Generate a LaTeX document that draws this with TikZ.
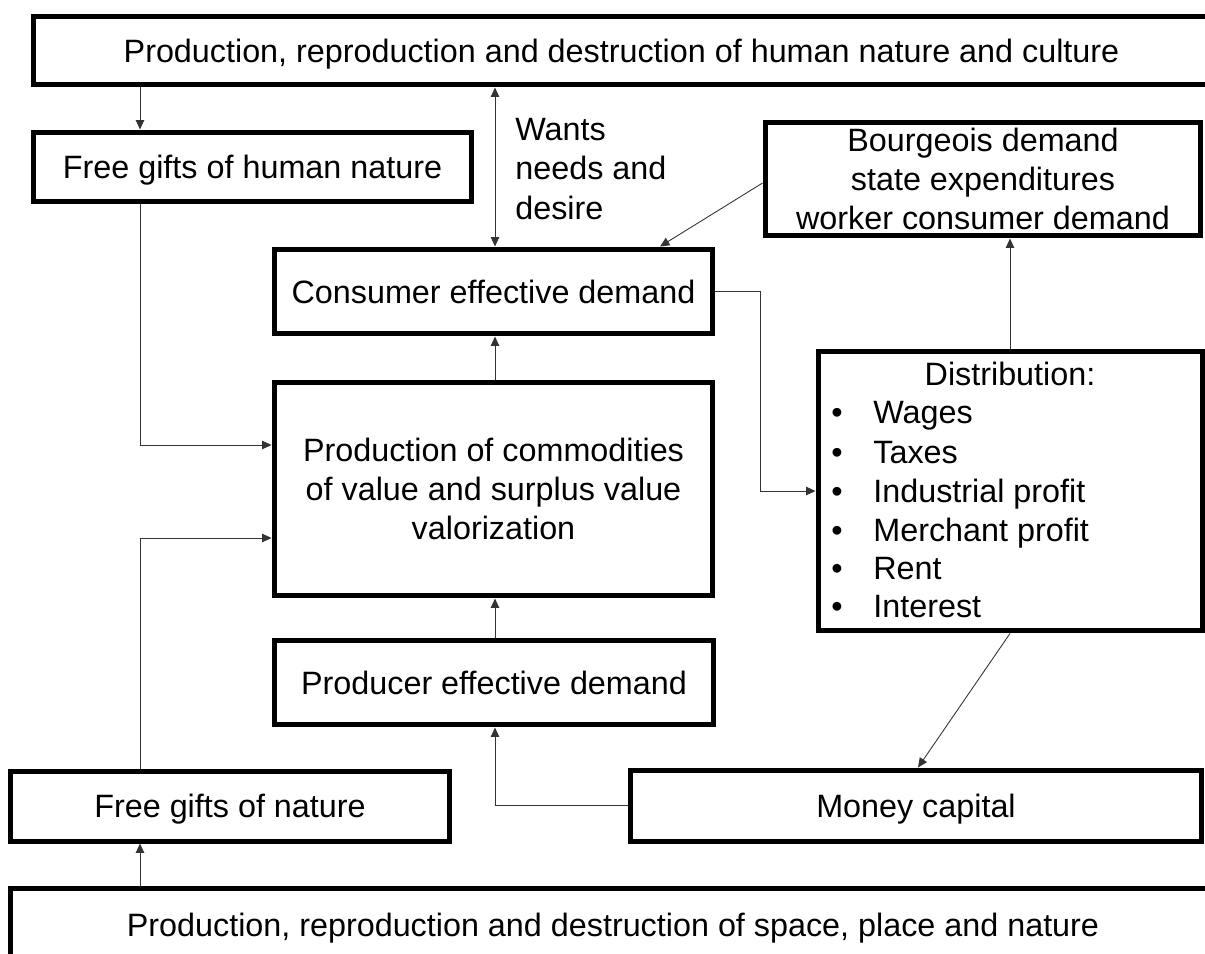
\documentclass[tikz,border=0pt]{standalone}
\usepackage{fontspec}
\setmainfont{Liberation Sans}
\usetikzlibrary{arrows.meta,calc}
\newcommand{\diagfont}{\fontsize{18.4}{22.4}\selectfont}
\begin{document}
\begin{tikzpicture}[x=0.02cm,y=-0.02cm,
  box/.style={draw, line width=0.1cm, inner sep=0pt, align=center, font=\diagfont},
  one/.style={text height=13.2pt, text depth=0pt},
  txt/.style={inner sep=0pt, font=\diagfont},
  tip/.tip={Triangle[length=0.19cm,width=0.17cm]},
  arr/.style={draw=black!80, line width=0.5pt, -tip},
  darr/.style={draw=black!80, line width=0.5pt, tip-tip}]

\useasboundingbox (0,0) rectangle (1205,954);
\clip (0,0) rectangle (1205,954);

% boxes
\node[box, one, minimum width=23.54cm, minimum height=1.38cm] (top) at (621.5,50.5)
  {Production, reproduction and destruction of human nature and culture};
\node[box, one, minimum width=8.78cm, minimum height=1.4cm] (human) at (252.5,167)
  {Free gifts of human nature};
\node[box, minimum width=8.72cm, minimum height=2.28cm] (bourg) at (983,179)
  {Bourgeois demand\\state expenditures\\worker consumer demand};
\node[box, one, minimum width=8.78cm, minimum height=1.7cm] (cons) at (493.5,291.5)
  {Consumer effective demand};
\node[box, minimum width=8.78cm, minimum height=4.28cm] (prod) at (493.5,489)
  {Production of commodities\\of value and surplus value\\valorization};
\node[box, minimum width=7.7cm, minimum height=5.6cm] (dist) at (1010.5,491) {};
\node[box, one, minimum width=8.8cm, minimum height=1.7cm] (pdem) at (494,682.5)
  {Producer effective demand};
\node[box, one, minimum width=8.8cm, minimum height=1.4cm] (nature) at (230,806)
  {Free gifts of nature};
\node[box, one, minimum width=11.44cm, minimum height=1.42cm] (money) at (916,805.5)
  {Money capital};
\node[box, one, minimum width=24.12cm, minimum height=1.48cm] (base) at (613,925)
  {Production, reproduction and destruction of space, place and nature};

% distribution list
\node[txt, anchor=base] (dhead) at (1010,385) {Distribution:};
\foreach \name/\item/\y in {w/Wages/423, t/Taxes/463, ip/Industrial profit/502,
                            mp/Merchant profit/541, r/Rent/579, in/Interest/617}{
  \node[txt, anchor=base] (bul-\name) at (837,\y) {•};
  \node[txt, anchor=base west] (item-\name) at (873,\y) {\item};
}

% label beside the double arrow
\node[txt, align=left, anchor=west] (wants) at (515,169) {Wants\\needs and\\desire};

% helper columns and rows for the connectors
\coordinate (xL) at (140,0);
\coordinate (xM) at (495,0);
\coordinate (xJ) at (760,0);
\coordinate (xR) at (1010,0);
\coordinate (xC) at (660,0);
\coordinate (xT) at (918,0);
\coordinate (yB) at (0,183);
\coordinate (yH) at (0,445);
\coordinate (yN) at (0,538);

% connectors
\draw[arr] (top.south -| xL) -- (human.north -| xL);
\draw[darr] (top.south -| xM) -- (cons.north -| xM);
\draw[arr] (bourg.west |- yB) -- (cons.north -| xC);
\draw[arr] (human.south -| xL) -- (xL |- yH) -- (prod.west |- yH);
\draw[arr] (nature.north -| xL) -- (xL |- yN) -- (prod.west |- yN);
\draw[arr] (base.north -| xL) -- (nature.south -| xL);
\draw[arr] (prod.north -| xM) -- (cons.south -| xM);
\draw[arr] (pdem.north -| xM) -- (prod.south -| xM);
\draw[arr] (money.west) -- (money.west -| xM) -- (pdem.south -| xM);
\draw[arr] (cons.east) -- (cons.east -| xJ) -- (xJ |- dist.west) -- (dist.west);
\draw[arr] (dist.north -| xR) -- (bourg.south -| xR);
\draw[arr] (dist.south -| xR) -- (money.north -| xT);
\end{tikzpicture}
\end{document}
